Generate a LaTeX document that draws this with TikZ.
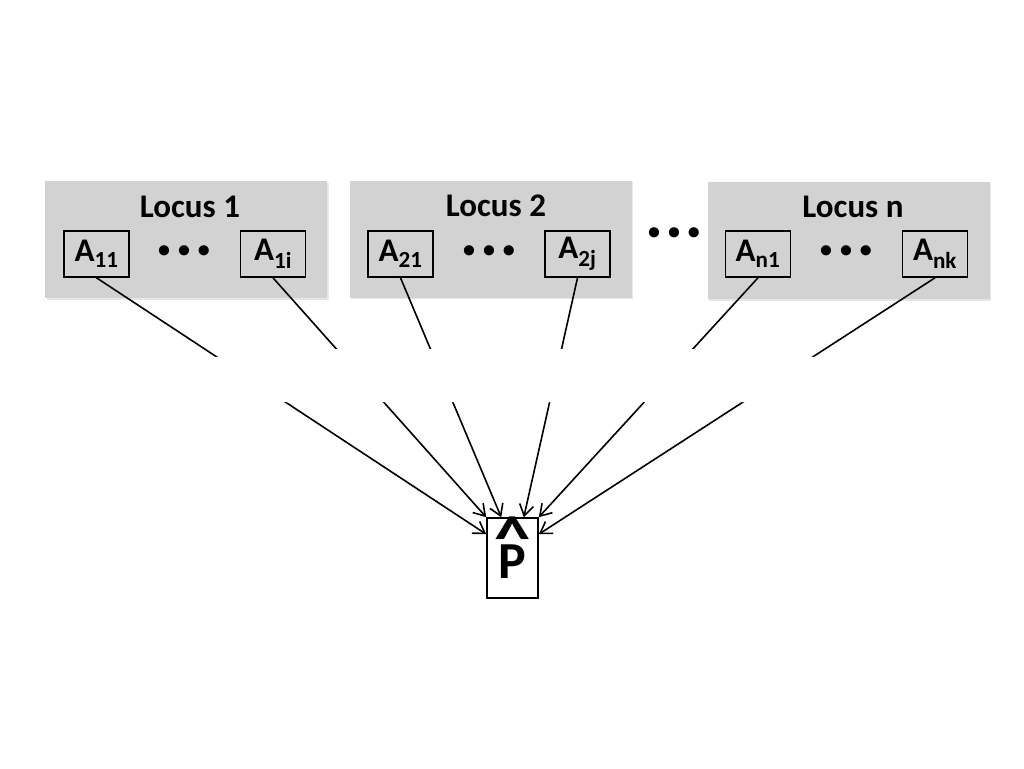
\documentclass[tikz,border=0pt]{standalone}
\usepackage{fontspec}
\setmainfont{Carlito}
\usetikzlibrary{arrows.meta,shadows}

\newcommand{\threedots}{\textbullet\hspace{8pt}\textbullet\hspace{8pt}\textbullet}

\begin{document}
\begin{tikzpicture}[x=1pt,y=-1pt,
  locus/.style={fill=gray!35, minimum width=282pt, minimum height=117pt, inner sep=0pt,
    drop shadow={shadow xshift=1.5pt, shadow yshift=-1.5pt, opacity=0.2, fill=gray}},
  title/.style={font=\bfseries\fontsize{33}{36}\selectfont, inner sep=0pt},
  allele/.style={draw, line width=1.6pt, minimum width=65pt, minimum height=46pt, inner sep=0pt,
    font=\bfseries\fontsize{33}{36}\selectfont},
  dots/.style={font=\bfseries\fontsize{24}{24}\selectfont, inner sep=0pt},
  link/.style={line width=1.6pt, -{Straight Barb[length=11pt,width=14pt,line width=1.6pt]}}]

\useasboundingbox (0,0) rectangle (1024,768);

% loci
\node[locus] (L1) at (186,239.5) {};
\node[locus] (L2) at (490.5,239) {};
\node[locus] (Ln) at (848.5,240.5) {};

\node[title] (t1) at (190,207) {Locus 1};
\node[title] (t2) at (496,206) {Locus 2};
\node[title] (tn) at (853,207) {Locus n};

% alleles
\node[allele] (a11) at (96.5,254) {A\textsubscript{11}};
\node[allele] (a1i) at (273,254) {A\textsubscript{1i}};
\node[allele] (a21) at (400.5,254) {A\textsubscript{21}};
\node[allele] (a2j) at (577.5,254) {A\textsubscript{2j}};
\node[allele] (an1) at (758,254) {A\textsubscript{n1}};
\node[allele] (ank) at (935,254) {A\textsubscript{nk}};

\foreach \x/\n in {184/d1, 489/d2, 846/dn}
    \node[dots] (\n) at (\x,252) {\threedots};
\node[dots] (dl) at (674,234) {\threedots};

% estimate
\node[draw, line width=1.6pt, minimum width=51pt, minimum height=80pt, inner sep=0pt,
    font=\bfseries\fontsize{52}{52}\selectfont] (P) at (512.5,558)
    {\raisebox{-4pt}[\height][0pt]{\ooalign{P\cr\hidewidth\smash{\raisebox{19pt}{\scalebox{1.4}[1.2]{\textasciicircum}}}\hidewidth\cr}}};

\draw[link] (a11.south) -- ([yshift=-17pt]P.north west);
\draw[link] (a1i.south) -- (P.north west);
\draw[link] (a21.south) -- ([xshift=15pt]P.north west);
\draw[link] (a2j.south) -- ([xshift=-15pt]P.north east);
\draw[link] (an1.south) -- (P.north east);
\draw[link] (ank.south) -- ([yshift=-17pt]P.north east);

% break in the links
\fill[white] (205,358) -- (300,349) -- (720,349) -- (825,358) -- (825,402) -- (205,402) -- cycle;

\end{tikzpicture}
\end{document}
